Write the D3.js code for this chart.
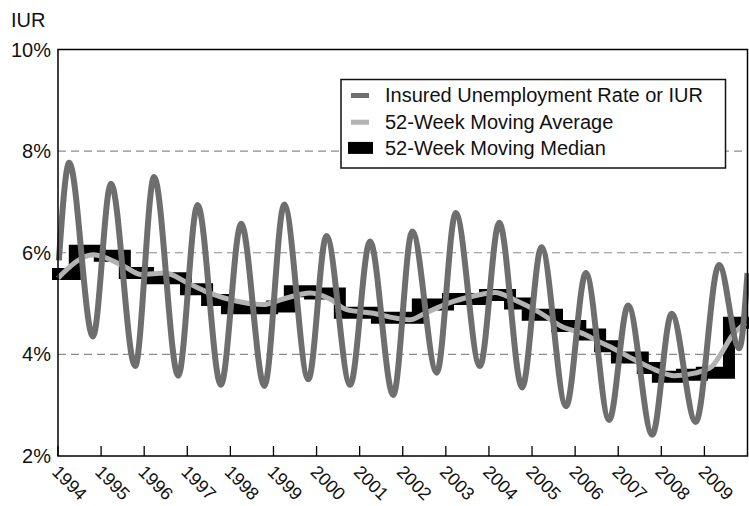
<!DOCTYPE html>
<html>
<head>
<meta charset="utf-8">
<script src="https://cdn.jsdelivr.net/npm/d3@7/dist/d3.min.js"></script>
<style>
  body { margin: 0; background: #fff; }
  svg { display: block; font-family: "Liberation Sans", Arial, sans-serif; }
</style>
</head>
<body>
<svg id="chart" width="749" height="506"></svg>
<script>
// IUR, read at the start, every peak and trough and the end (decimal year, %)
const iurDates = [1994.02, 1994.26, 1994.81, 1995.23, 1995.79, 1996.23, 1996.79, 1997.24, 1997.78,
  1998.25, 1998.79, 1999.25, 1999.81, 2000.23, 2000.78, 2001.24, 2001.78, 2002.22, 2002.79,
  2003.23, 2003.79, 2004.24, 2004.77, 2005.22, 2005.79, 2006.25, 2006.79, 2007.23, 2007.79,
  2008.24, 2008.80, 2009.34, 2009.81, 2010.0]
const iurValues = [5.85, 7.77, 4.35, 7.36, 3.77, 7.49, 3.58, 6.94, 3.40,
  6.57, 3.38, 6.95, 3.51, 6.33, 3.40, 6.22, 3.20, 6.42, 3.64,
  6.78, 3.77, 6.59, 3.35, 6.11, 2.98, 5.60, 2.71, 4.96, 2.42,
  4.80, 2.67, 5.76, 4.12, 5.60]

// 52-week moving average
const avgDates = [1994.0, 1994.82, 1995.48, 1995.94, 1996.48, 1997.02, 1997.57, 1998.03, 1998.76,
  1999.23, 1999.85, 2000.31, 2000.70, 2001.32, 2001.86, 2002.17, 2002.52, 2003.06, 2003.60,
  2004.14, 2004.60, 2005.14, 2005.69, 2006.23, 2006.46, 2006.92, 2007.39, 2007.85, 2008.31,
  2008.77, 2009.17, 2009.40, 2009.63, 2009.96]
const avgValues = [5.50, 5.96, 5.76, 5.57, 5.60, 5.40, 5.19, 5.07, 4.98,
  5.09, 5.21, 5.09, 4.88, 4.81, 4.71, 4.68, 4.81, 5.01, 5.14,
  5.22, 5.07, 4.84, 4.55, 4.39, 4.29, 4.10, 3.89, 3.70, 3.58,
  3.63, 3.76, 4.03, 4.35, 4.62]

// 52-week moving median, start of each step
const medianDates = [1994.0, 1994.39, 1994.97, 1995.55, 1996.09, 1996.97, 1997.46, 1997.92, 1998.97,
  1999.38, 1999.85, 2000.54, 2001.40, 2002.35, 2003.05, 2003.91, 2004.49, 2004.90, 2005.58,
  2006.12, 2006.58, 2006.97, 2007.57, 2007.92, 2008.48, 2008.94, 2009.57, 2010.0]
const medianValues = [5.58, 6.04, 5.94, 5.60, 5.50, 5.28, 5.07, 4.91, 4.94,
  5.24, 5.20, 4.82, 4.72, 4.98, 5.09, 5.17, 5.00, 4.78, 4.56,
  4.39, 4.16, 3.94, 3.73, 3.56, 3.60, 3.64, 4.62, 4.62]

const yTicks = [2, 4, 6, 8, 10]
const yGrid = [4, 6, 8]
const xTicks = [1994, 1995, 1996, 1997, 1998, 1999, 2000, 2001, 2002, 2003, 2004, 2005, 2006, 2007, 2008, 2009]

const seriesNames = ['Insured Unemployment Rate or IUR', '52-Week Moving Average', '52-Week Moving Median']

const svg = d3.select('#chart')
const margin = { top: 49.5, right: 1.5, bottom: 50, left: 58 }
const width = 749 - margin.left - margin.right
const height = 506 - margin.top - margin.bottom

const x = d3.scaleLinear().domain([1994, 2010]).range([0, width])
const y = d3.scaleLinear().domain([2, 10]).range([height, 0])

const g = svg.append('g').attr('transform', `translate(${margin.left},${margin.top})`)

// dashed grid
g.selectAll('.grid')
  .data(yGrid)
  .enter()
  .append('line')
  .attr('class', 'grid')
  .attr('x1', 0)
  .attr('x2', width)
  .attr('y1', d => y(d))
  .attr('y2', d => y(d))
  .attr('stroke', '#8c8c8c')
  .attr('stroke-width', 1.2)
  .attr('stroke-dasharray', '8,5')

// y labels
g.selectAll('.ylab')
  .data(yTicks)
  .enter()
  .append('text')
  .attr('class', 'ylab')
  .attr('x', -7)
  .attr('y', d => y(d))
  .attr('dy', '0.35em')
  .attr('text-anchor', 'end')
  .attr('font-size', '20px')
  .attr('fill', '#111')
  .text(d => d + '%')

svg.append('text')
  .attr('x', 11)
  .attr('y', 27)
  .attr('font-size', '20px')
  .attr('fill', '#111')
  .text('IUR')

// x ticks (inside) and rotated labels
g.selectAll('.xtick')
  .data(xTicks)
  .enter()
  .append('line')
  .attr('class', 'xtick')
  .attr('x1', d => x(d))
  .attr('x2', d => x(d))
  .attr('y1', height)
  .attr('y2', height - 10)
  .attr('stroke', '#000')
  .attr('stroke-width', 1.3)

g.selectAll('.xlab')
  .data(xTicks)
  .enter()
  .append('text')
  .attr('class', 'xlab')
  .attr('transform', d => `translate(${x(d) - 7},${height + 17}) rotate(45)`)
  .attr('font-size', '18px')
  .attr('fill', '#111')
  .text(d => d)

// lines
const median = d3.line()
  .x((d, i) => x(medianDates[i]))
  .y(d => y(d))
  .curve(d3.curveStepAfter)

const smooth = (dates) => d3.line()
  .x((d, i) => x(dates[i]))
  .y(d => y(d))
  .curve(d3.curveMonotoneX)

g.append('path')
  .datum(medianValues)
  .attr('d', median)
  .attr('fill', 'none')
  .attr('stroke', '#000')
  .attr('stroke-width', 12)
  .attr('stroke-linecap', 'square')
  .attr('stroke-linejoin', 'miter')

g.append('path')
  .datum(avgValues)
  .attr('d', smooth(avgDates))
  .attr('fill', 'none')
  .attr('stroke', '#b3b3b3')
  .attr('stroke-width', 5)

g.append('path')
  .datum(iurValues)
  .attr('d', smooth(iurDates))
  .attr('fill', 'none')
  .attr('stroke', '#6e6e6e')
  .attr('stroke-width', 6)

// frame
g.append('rect')
  .attr('width', width)
  .attr('height', height)
  .attr('fill', 'none')
  .attr('stroke', '#000')
  .attr('stroke-width', 1.5)

// legend
const legend = svg.append('g').attr('transform', 'translate(341,79.5)')
legend.append('rect')
  .attr('width', 384.5)
  .attr('height', 88.5)
  .attr('fill', '#fff')
  .attr('stroke', '#111')
  .attr('stroke-width', 1.5)

const rows = [
  { color: '#6e6e6e', w: 5, x1: 10, x2: 28 },
  { color: '#b3b3b3', w: 5, x1: 10, x2: 28 },
  { color: '#000', w: 12, x1: 7, x2: 32 },
]
rows.forEach((r, i) => {
  const row = legend.append('g').attr('transform', `translate(0,${16 + i * 26.7})`)
  row.append('line')
    .attr('x1', r.x1)
    .attr('x2', r.x2)
    .attr('y1', i === 2 ? -1 : 0)
    .attr('y2', i === 2 ? -1 : 0)
    .attr('stroke', r.color)
    .attr('stroke-width', r.w)
  row.append('text')
    .attr('x', 44)
    .attr('y', 6.5)
    .attr('font-size', '20px')
    .attr('fill', '#111')
    .text(seriesNames[i])
})
</script>
</body>
</html>
